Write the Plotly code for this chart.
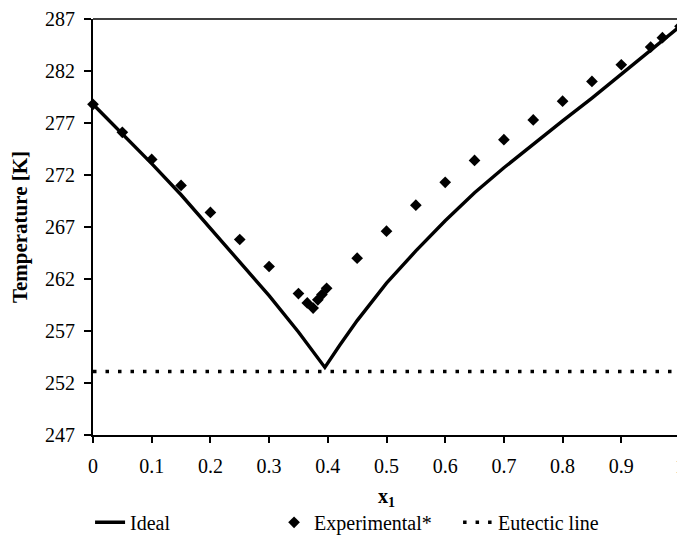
import plotly.graph_objects as go

# Ideal solubility curve
ideal_x = [0.0, 0.05, 0.1, 0.15, 0.2, 0.25, 0.3, 0.35, 0.395,
           0.42, 0.45, 0.5, 0.55, 0.6, 0.65, 0.7, 0.75, 0.8, 0.85, 0.9, 0.95, 1.0]
ideal_T = [278.8, 276.0, 273.1, 270.1, 266.9, 263.7, 260.4, 256.9, 253.5,
           255.6, 258.0, 261.6, 264.7, 267.6, 270.3, 272.7, 275.0, 277.2, 279.4, 281.7, 284.0, 286.3]

# Experimental points
exp_x = [0.0, 0.05, 0.1, 0.15, 0.2, 0.25, 0.3, 0.35, 0.365, 0.375, 0.383, 0.39, 0.398,
         0.45, 0.5, 0.55, 0.6, 0.65, 0.7, 0.75, 0.8, 0.85, 0.9, 0.95, 0.97, 1.0]
exp_T = [278.8, 276.1, 273.5, 271.0, 268.4, 265.8, 263.2, 260.6, 259.7, 259.2, 260.0, 260.5, 261.1,
         264.0, 266.6, 269.1, 271.3, 273.4, 275.4, 277.3, 279.1, 281.0, 282.6, 284.3, 285.2, 286.3]

# Eutectic line
eut_x = [0.0, 1.0]
eut_T = [253.1, 253.1]

x_ticks = [0, 0.1, 0.2, 0.3, 0.4, 0.5, 0.6, 0.7, 0.8, 0.9, 1]
y_ticks = [247, 252, 257, 262, 267, 272, 277, 282, 287]

FONT = "Liberation Serif"

fig = go.Figure()
fig.add_trace(go.Scatter(x=ideal_x, y=ideal_T, mode="lines", name="Ideal",
                         line=dict(color="black", width=3.4), cliponaxis=False))
fig.add_trace(go.Scatter(x=exp_x, y=exp_T, mode="markers", name="Experimental*",
                         marker=dict(symbol="diamond", color="black", size=9), cliponaxis=False))
fig.add_trace(go.Scatter(x=eut_x, y=eut_T, mode="lines", name="Eutectic line",
                         line=dict(color="black", width=3.5, dash="3.5px,9px")))

# page body adds an 8px offset, so the figure is 8px smaller than the window
fig.update_layout(
    width=677, height=531,
    margin=dict(l=85, r=5, t=11, b=104, autoexpand=False),
    paper_bgcolor="white", plot_bgcolor="white",
    font=dict(family=FONT, size=20, color="black"),
    showlegend=True,
    legend=dict(orientation="h", x=-0.005, xanchor="left", y=-0.163, yanchor="top",
                font=dict(family=FONT, size=20, color="black"),
                bgcolor="rgba(0,0,0,0)", entrywidth=139, entrywidthmode="pixels"),
    xaxis=dict(range=[0, 1], tickvals=x_ticks, ticktext=[str(v) for v in x_ticks],
               showgrid=False, zeroline=False, showline=True, linecolor="black", linewidth=2,
               ticks="outside", ticklen=6, tickwidth=2, tickcolor="black",
               tickfont=dict(family=FONT, size=20), ticklabeloverflow="allow",
               ticklabelstandoff=6, automargin=False,
               title=dict(text="<b>x<sub>1</sub></b>", font=dict(family=FONT, size=20), standoff=13)),
    yaxis=dict(range=[247, 287], tickvals=y_ticks,
               showgrid=False, zeroline=False, showline=True, linecolor="black", linewidth=2,
               ticks="outside", ticklen=7, tickwidth=2, tickcolor="black",
               tickfont=dict(family=FONT, size=20), ticklabeloverflow="allow",
               ticklabelstandoff=5, automargin=False,
               title=dict(text="<b>Temperature [K]</b>", font=dict(family=FONT, size=21), standoff=12)),
    shapes=[
        dict(type="line", xref="paper", yref="paper", x0=0, x1=1, y0=1, y1=1,
             line=dict(color="black", width=1.5)),
        dict(type="line", xref="paper", yref="paper", x0=1, x1=1, y0=0, y1=1,
             line=dict(color="black", width=1.5)),
    ],
)

fig.write_html("out.html")
